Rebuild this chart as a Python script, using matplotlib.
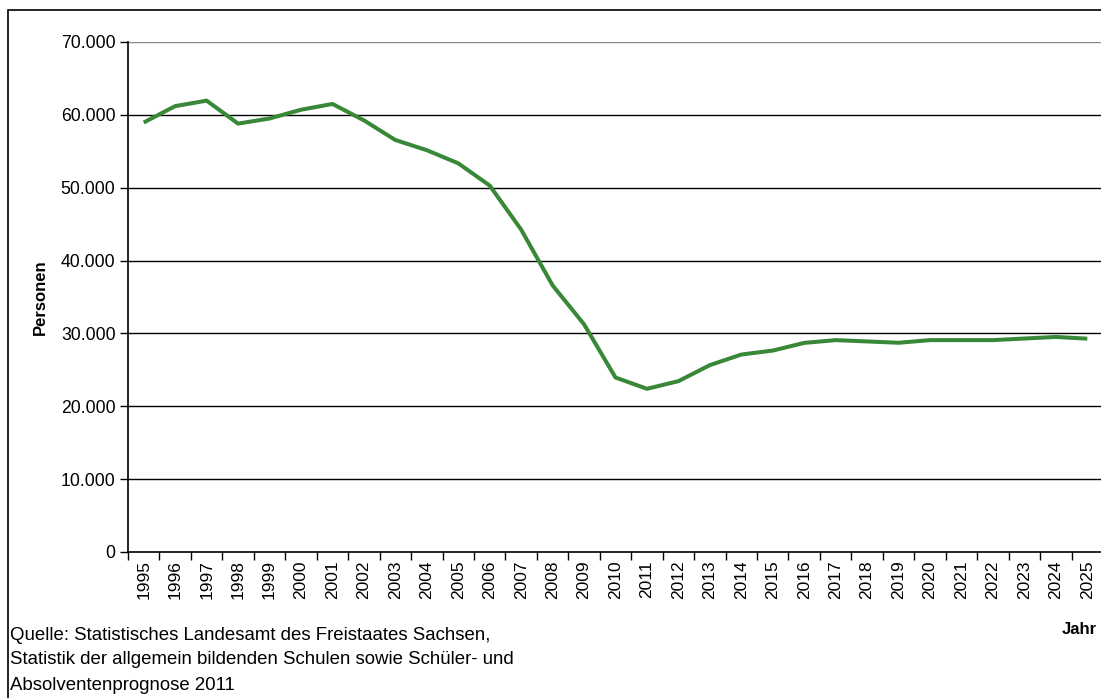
import matplotlib
matplotlib.use("Agg")
import matplotlib.pyplot as plt
from matplotlib.patches import Rectangle
from matplotlib.ticker import FuncFormatter

years = list(range(1995, 2026))
personen = [58950, 61200, 61950, 58800, 59500, 60700, 61500, 59250, 56550,
            55150, 53350, 50300, 44250, 36600, 31250, 23950, 22400, 23450,
            25650, 27100, 27650, 28700, 29080, 28900, 28720, 29080, 29080,
            29080, 29300, 29520, 29280]
y_ticks = [0, 10000, 20000, 30000, 40000, 50000, 60000, 70000]

plt.rcParams['font.family'] = ['Liberation Sans', 'DejaVu Sans']

W, H = 1101, 698
fig = plt.figure(figsize=(W / 100, H / 100), dpi=100)
fig.patch.set_facecolor('white')

# outer border (cropped at right/bottom)
fig.patches.append(Rectangle((8 / W, -0.05), 1.2, 1 - 9.5 / H + 0.05,
                             transform=fig.transFigure, fill=False,
                             edgecolor='black', linewidth=1.2))

left, right = 128 / W, 1103 / W
bottom, top = 1 - 552 / H, 1 - 42 / H
ax = fig.add_axes([left, bottom, right - left, top - bottom])

n = len(years)
xs = list(range(n))
ax.plot(xs, personen, color='#388838', linewidth=2.9, solid_joinstyle='round',
        solid_capstyle='butt', zorder=3)

ax.set_xlim(-0.5, n - 0.5)
ax.set_ylim(0, 70000)

for v in y_ticks[1:]:
    ax.axhline(v, color='#888888' if v == 70000 else 'black', linewidth=1.0, zorder=1)

ax.set_yticks(y_ticks)
ax.yaxis.set_major_formatter(FuncFormatter(lambda v, p: f"{int(v):,}".replace(",", ".")))
ax.tick_params(axis='y', direction='out', length=6, width=1, pad=3, labelsize=12.7)

# x: ticks at boundaries, labels at centers
ax.set_xticks([i - 0.5 for i in range(n + 1)])
ax.set_xticklabels([])
ax.tick_params(axis='x', which='major', direction='out', length=6, width=1)
ax.set_xticks(xs, minor=True)
ax.set_xticklabels([str(y) for y in years], minor=True, rotation=90, fontsize=12.5)
ax.tick_params(axis='x', which='minor', length=0, pad=6)

for s in ['top', 'right']:
    ax.spines[s].set_visible(False)
ax.spines['left'].set_linewidth(1.2)
ax.spines['bottom'].set_linewidth(1.2)

fig.text(40 / W, 1 - 297 / H, 'Personen', rotation=90, ha='center', va='center',
         fontsize=12, fontweight='bold')
fig.text(1097 / W, 1 - 630 / H, 'Jahr', ha='right', va='center',
         fontsize=12, fontweight='bold')

src = ["Quelle: Statistisches Landesamt des Freistaates Sachsen,",
       "Statistik der allgemein bildenden Schulen sowie Schüler- und",
       "Absolventenprognose 2011"]
for i, line in enumerate(src):
    fig.text(10 / W, 1 - (635 + 25 * i) / H, line, ha='left', va='center', fontsize=13.4)

fig.savefig('out.png', dpi=100)
